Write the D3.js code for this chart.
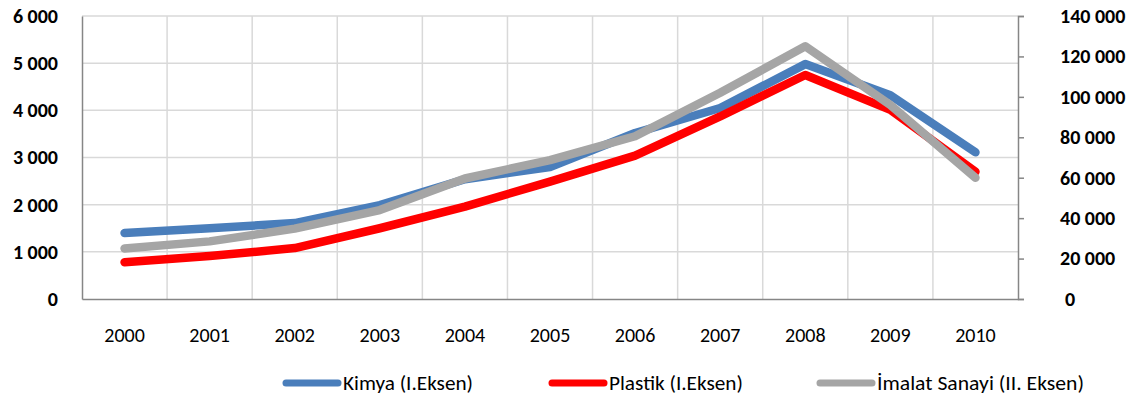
<!DOCTYPE html>
<html>
<head>
<meta charset="utf-8">
<script src="https://cdn.jsdelivr.net/npm/d3@7"></script>
<style>
  body { margin: 0; background: #fff; }
  text { font-family: Carlito, Lato, "Open Sans", sans-serif; }
</style>
</head>
<body>
<div id="chart"></div>
<script>
const years = ["2000", "2001", "2002", "2003", "2004", "2005", "2006", "2007", "2008", "2009", "2010"];
const kimya = [1400, 1500, 1610, 1990, 2540, 2800, 3520, 4050, 4980, 4320, 3110];
const plastik = [780, 910, 1080, 1500, 1960, 2490, 3040, 3870, 4750, 4010, 2700];
const imalat = [25000, 28500, 34800, 44000, 59600, 68700, 80500, 102000, 125000, 96000, 60000];
const leftTicks = [0, 1000, 2000, 3000, 4000, 5000, 6000];
const rightTicks = [0, 20000, 40000, 60000, 80000, 100000, 120000, 140000];
const seriesNames = ["Kimya (I.Eksen)", "Plastik (I.Eksen)", "İmalat Sanayi (II. Eksen)"];
const colors = ["#4a7ebb", "#ff0000", "#a5a5a5"];

const width = 1141, height = 402;
const plotLeft = 82, plotRight = 1018, plotTop = 16, plotBottom = 299;

const svg = d3.select("#chart")
    .append("svg")
    .attr("width", width)
    .attr("height", height);

const xScale = d3.scaleBand()
    .range([plotLeft, plotRight])
    .domain(years)
    .padding(0);

const yLeft = d3.scaleLinear()
    .range([plotBottom, plotTop])
    .domain([0, 6000]);

const yRight = d3.scaleLinear()
    .range([plotBottom, plotTop])
    .domain([0, 140000]);

const fmt = d => d3.format(",")(d).replace(/,/g, " ");

// horizontal grid
svg.append("g")
    .selectAll("line")
    .data(leftTicks.slice(1))
    .enter()
    .append("line")
    .attr("x1", plotLeft)
    .attr("x2", plotRight)
    .attr("y1", d => yLeft(d))
    .attr("y2", d => yLeft(d))
    .attr("stroke", "#d9d9d9")
    .attr("stroke-width", 1.5);

// vertical grid at category boundaries
svg.append("g")
    .selectAll("line")
    .data(years.slice(1))
    .enter()
    .append("line")
    .attr("x1", d => xScale(d))
    .attr("x2", d => xScale(d))
    .attr("y1", plotTop)
    .attr("y2", plotBottom)
    .attr("stroke", "#d9d9d9")
    .attr("stroke-width", 1.5);

// left axis
const axL = svg.append("g")
    .attr("transform", `translate(${plotLeft},0)`)
    .call(d3.axisLeft(yLeft).tickValues(leftTicks).tickSize(0).tickPadding(24).tickFormat(fmt));
axL.select(".domain").attr("stroke", "#868686").attr("stroke-width", 1.5);
axL.selectAll("text")
    .style("font-size", "20px")
    .style("font-weight", "bold")
    .attr("fill", "#000");

// right axis
const axR = svg.append("g")
    .attr("transform", `translate(${plotRight},0)`)
    .call(d3.axisRight(yRight).tickValues(rightTicks).tickSize(6).tickPadding(36).tickFormat(fmt));
axR.select(".domain").attr("stroke", "#868686").attr("stroke-width", 1.5);
axR.selectAll("line").attr("stroke", "#868686").attr("stroke-width", 1.5);
axR.selectAll("text")
    .style("font-size", "20px")
    .style("font-weight", "bold")
    .attr("fill", "#000");
axR.selectAll(".tick").filter(d => d === 0).select("text").attr("x", 47);

// bottom axis
const axB = svg.append("g")
    .attr("transform", `translate(0,${plotBottom})`)
    .call(d3.axisBottom(xScale).tickSize(0).tickPadding(29));
axB.select(".domain").attr("stroke", "#868686").attr("stroke-width", 1.5);
axB.selectAll("text")
    .style("font-size", "20px")
    .attr("fill", "#000");

const cx = d => xScale(d) + xScale.bandwidth() / 2;

const lineL = d3.line()
    .x((d, i) => cx(years[i]))
    .y(d => yLeft(d));

const lineR = d3.line()
    .x((d, i) => cx(years[i]))
    .y(d => yRight(d));

[[kimya, lineL], [plastik, lineL], [imalat, lineR]].forEach(([data, gen], i) => {
    svg.append("path")
        .datum(data)
        .attr("d", gen)
        .attr("fill", "none")
        .attr("stroke", colors[i])
        .attr("stroke-width", 8.5)
        .attr("stroke-linecap", "round")
        .attr("stroke-linejoin", "round");
});

// legend
const legendX = [283, 549, 817];
const legendW = [130, 134, 207];
const legend = svg.append("g");
seriesNames.forEach((name, i) => {
    legend.append("line")
        .attr("x1", legendX[i] + 3)
        .attr("x2", legendX[i] + 55)
        .attr("y1", 383)
        .attr("y2", 383)
        .attr("stroke", colors[i])
        .attr("stroke-width", 7)
        .attr("stroke-linecap", "round");
    legend.append("text")
        .text(name)
        .attr("x", legendX[i] + 60)
        .attr("y", 390)
        .attr("textLength", legendW[i])
        .attr("lengthAdjust", "spacingAndGlyphs")
        .style("font-size", "20px")
        .attr("fill", "#000");
});
</script>
</body>
</html>
